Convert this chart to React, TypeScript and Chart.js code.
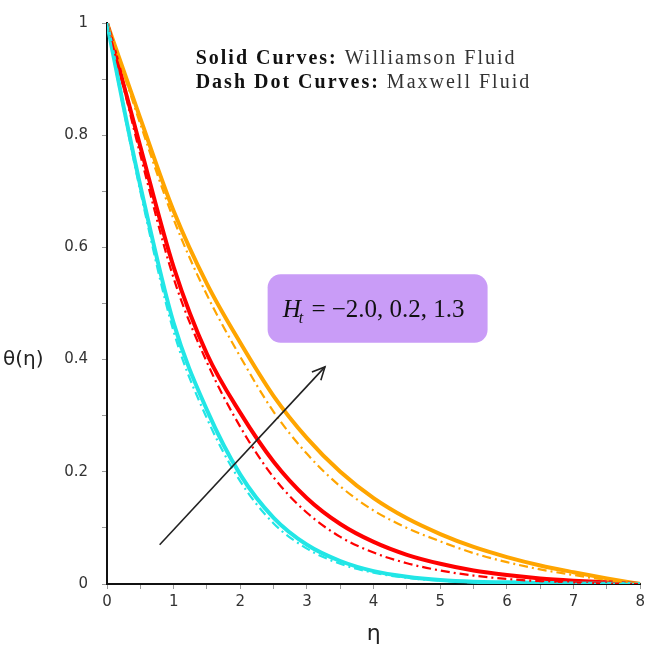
import React, { useEffect, useRef } from 'react';
import { Chart, registerables } from 'chart.js';

Chart.register(...registerables);

// eta grid
const eta = [0, 0.25, 0.5, 1, 1.5, 2, 2.5, 3, 3.5, 4, 4.5, 5, 5.5, 6, 6.5, 7, 7.5, 8];

// Williamson (solid)
const williamsonCyan = [1, 0.85, 0.71, 0.465, 0.31, 0.195, 0.118, 0.07, 0.041, 0.023, 0.013, 0.007, 0.004, 0.003, 0.002, 0.001, 0.0005, 0];
const williamsonRed = [1, 0.89, 0.78, 0.565, 0.41, 0.305, 0.218, 0.153, 0.107, 0.075, 0.052, 0.036, 0.024, 0.016, 0.01, 0.006, 0.003, 0];
const williamsonOrange = [1, 0.915, 0.83, 0.665, 0.535, 0.43, 0.335, 0.26, 0.2, 0.153, 0.117, 0.089, 0.066, 0.048, 0.033, 0.021, 0.01, 0];

// Maxwell (dash dot)
const maxwellCyan = [1, 0.845, 0.7, 0.45, 0.295, 0.183, 0.108, 0.063, 0.036, 0.02, 0.011, 0.006, 0.003, 0.002, 0.001, 0.0005, 0, 0];
const maxwellRed = [1, 0.885, 0.765, 0.545, 0.395, 0.28, 0.19, 0.127, 0.084, 0.056, 0.037, 0.024, 0.015, 0.009, 0.005, 0.003, 0.001, 0];
const maxwellOrange = [1, 0.91, 0.82, 0.65, 0.515, 0.405, 0.307, 0.232, 0.174, 0.131, 0.1, 0.076, 0.055, 0.039, 0.026, 0.016, 0.007, 0];

const seriesColors = ['#22E6E6', '#FF0000', '#FFA500'];

const legendBold = ['Solid Curves:', 'Dash Dot Curves:'];
const legendNormal = ['Williamson Fluid', 'Maxwell Fluid'];
const yTitle = 'θ(η)';
const xTitle = 'η';
const boxMain = 'H';
const boxSub = 't';
const boxRest = ' = −2.0, 0.2, 1.3';

// annotation anchors in data coordinates
const legendPos = [1.33, 0.927];
const boxRange = [2.41, 5.71, 0.552, 0.43];
const arrowFrom = [0.79, 0.07];
const arrowTo = [3.27, 0.387];

const makePoints = (ys: number[]) => eta.map((x, i) => ({ x, y: ys[i] }));

const annotations = {
  id: 'annotations',
  afterDatasetsDraw(chart: any) {
    const { ctx, scales } = chart;
    const x = scales.x;
    const y = scales.y;
    ctx.save();

    // legend text
    const lx = x.getPixelForValue(legendPos[0]);
    let ly = y.getPixelForValue(legendPos[1]);
    ctx.textBaseline = 'alphabetic';
    ctx.textAlign = 'left';
    (ctx as any).letterSpacing = '2px';
    for (let i = 0; i < 2; i++) {
      ctx.fillStyle = '#111';
      ctx.font = 'bold 20px "Liberation Serif", "Times New Roman", serif';
      ctx.fillText(legendBold[i], lx, ly);
      const w = ctx.measureText(legendBold[i] + ' ').width;
      ctx.font = '20px "Liberation Serif", "Times New Roman", serif';
      ctx.fillStyle = '#333';
      ctx.fillText(legendNormal[i], lx + w, ly);
      ly += 24;
    }
    (ctx as any).letterSpacing = '0px';

    // purple box
    const bx1 = x.getPixelForValue(boxRange[0]);
    const bx2 = x.getPixelForValue(boxRange[1]);
    const by1 = y.getPixelForValue(boxRange[2]);
    const by2 = y.getPixelForValue(boxRange[3]);
    ctx.fillStyle = '#C99CF7';
    ctx.beginPath();
    (ctx as any).roundRect(bx1, by1, bx2 - bx1, by2 - by1, 13);
    ctx.fill();

    // box text
    ctx.fillStyle = '#111';
    const fontMain = 'italic 25px "Liberation Serif", "Times New Roman", serif';
    const fontSub = 'italic 16px "Liberation Serif", "Times New Roman", serif';
    const fontRest = '25px "Liberation Serif", "Times New Roman", serif';
    ctx.font = fontMain;
    const wH = ctx.measureText(boxMain).width;
    ctx.font = fontSub;
    const wT = ctx.measureText(boxSub).width;
    ctx.font = fontRest;
    const wR = ctx.measureText(boxRest).width;
    const total = wH + wT + wR;
    let tx = (bx1 + bx2) / 2 - total / 2 - 4;
    const ty = (by1 + by2) / 2 + 8;
    ctx.font = fontMain;
    ctx.fillText(boxMain, tx, ty);
    tx += wH;
    ctx.font = fontSub;
    ctx.fillText(boxSub, tx - 2, ty + 6);
    tx += wT;
    ctx.font = fontRest;
    ctx.fillText(boxRest, tx, ty);

    // arrow
    const ax1 = x.getPixelForValue(arrowFrom[0]);
    const ay1 = y.getPixelForValue(arrowFrom[1]);
    const ax2 = x.getPixelForValue(arrowTo[0]);
    const ay2 = y.getPixelForValue(arrowTo[1]);
    ctx.strokeStyle = '#222';
    ctx.lineWidth = 1.6;
    ctx.beginPath();
    ctx.moveTo(ax1, ay1);
    ctx.lineTo(ax2, ay2);
    ctx.stroke();
    const ang = Math.atan2(ay2 - ay1, ax2 - ax1);
    const hl = 14;
    ctx.beginPath();
    ctx.moveTo(ax2 - hl * Math.cos(ang - 0.45), ay2 - hl * Math.sin(ang - 0.45));
    ctx.lineTo(ax2, ay2);
    ctx.lineTo(ax2 - hl * Math.cos(ang + 0.45), ay2 - hl * Math.sin(ang + 0.45));
    ctx.stroke();

    // axis titles
    ctx.fillStyle = '#222';
    ctx.font = '20px "DejaVu Sans", sans-serif';
    ctx.textAlign = 'left';
    ctx.textBaseline = 'middle';
    ctx.fillText(yTitle, 3, y.getPixelForValue(0.4));
    ctx.font = '22px "DejaVu Sans", sans-serif';
    ctx.textAlign = 'center';
    ctx.fillText(xTitle, x.getPixelForValue(4), 634);

    ctx.restore();
  },
};

export default function App() {
  const canvasRef = useRef<HTMLCanvasElement | null>(null);

  useEffect(() => {
    document.body.style.margin = '0';
    const canvas = canvasRef.current;
    if (!canvas) return;
    const solid = (data: number[], color: string) => ({
      data: makePoints(data),
      borderColor: color,
      backgroundColor: color,
      borderWidth: 4,
      pointRadius: 0,
      cubicInterpolationMode: 'monotone' as const,
      fill: false,
    });
    const dashdot = (data: number[], color: string) => ({
      data: makePoints(data),
      borderColor: color,
      backgroundColor: color,
      borderWidth: 2.2,
      borderDash: [9, 4, 2, 4],
      pointRadius: 0,
      cubicInterpolationMode: 'monotone' as const,
      fill: false,
    });
    const chart = new Chart(canvas, {
      type: 'line',
      data: {
        datasets: [
          dashdot(maxwellCyan, seriesColors[0]),
          dashdot(maxwellRed, seriesColors[1]),
          dashdot(maxwellOrange, seriesColors[2]),
          solid(williamsonCyan, seriesColors[0]),
          solid(williamsonRed, seriesColors[1]),
          solid(williamsonOrange, seriesColors[2]),
        ],
      },
      options: {
        animation: false,
        responsive: false,
        layout: { padding: { left: 0, right: 8, top: 10, bottom: 0 } },
        plugins: { legend: { display: false }, tooltip: { enabled: false } },
        scales: {
          x: {
            type: 'linear',
            min: 0,
            max: 8,
            afterFit: (s: any) => { s.height = 70; },
            grid: { drawOnChartArea: false, drawTicks: true, tickLength: 5, color: '#999' },
            border: { display: true, color: '#111', width: 2 },
            ticks: {
              stepSize: 0.5,
              autoSkip: false,
              maxRotation: 0,
              padding: 4,
              color: '#333',
              font: { family: '"DejaVu Sans", sans-serif', size: 15 },
              callback: (v: any) => (Number.isInteger(v) ? String(v) : ''),
            },
          },
          y: {
            type: 'linear',
            min: 0,
            max: 1,
            afterFit: (s: any) => { s.width = 107; },
            grid: { drawOnChartArea: false, drawTicks: true, tickLength: 5, color: '#999' },
            border: { display: true, color: '#111', width: 2 },
            ticks: {
              stepSize: 0.1,
              autoSkip: false,
              padding: 14,
              color: '#333',
              font: { family: '"DejaVu Sans", sans-serif', size: 15 },
              callback: (v: any) => {
                const k = Math.round(Number(v) * 10);
                if (k % 2 !== 0) return '';
                return k === 0 ? '0' : k === 10 ? '1' : (k / 10).toFixed(1);
              },
            },
          },
        },
      },
      plugins: [annotations],
    });
    return () => chart.destroy();
  }, []);

  return (
    <div style={{ width: 649, height: 654, background: '#fff' }}>
      <canvas ref={canvasRef} width={649} height={654} style={{ display: 'block' }} />
    </div>
  );
}
